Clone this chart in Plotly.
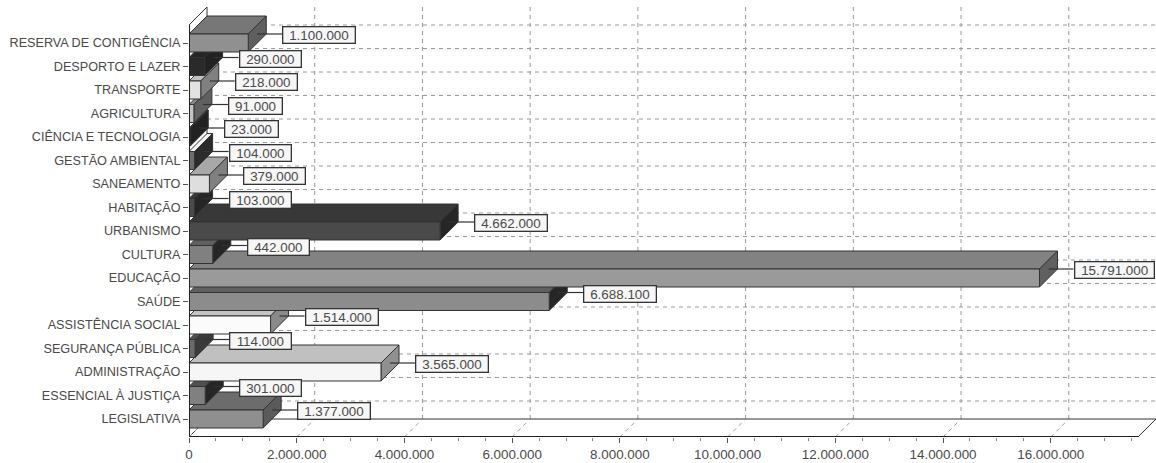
import plotly.graph_objects as go

categories = ["LEGISLATIVA", "ESSENCIAL À JUSTIÇA", "ADMINISTRAÇÃO", "SEGURANÇA PÚBLICA",
              "ASSISTÊNCIA SOCIAL", "SAÚDE", "EDUCAÇÃO", "CULTURA", "URBANISMO", "HABITAÇÃO",
              "SANEAMENTO", "GESTÃO AMBIENTAL", "CIÊNCIA E TECNOLOGIA", "AGRICULTURA",
              "TRANSPORTE", "DESPORTO E LAZER", "RESERVA DE CONTIGÊNCIA"]
values = [1377000, 301000, 3565000, 114000, 1514000, 6688100, 15791000, 442000, 4662000,
          103000, 379000, 104000, 23000, 91000, 218000, 290000, 1100000]
front_colors = ["#8f8f8f", "#808080", "#f6f6f6", "#6a6a6a", "#fbfbfb", "#8c8c8c", "#9a9a9a", "#808080",
                "#4a4a4a", "#4a4a4a", "#dedede", "#6e6e6e", "#2a2a2a", "#c4c4c4", "#e2e2e2", "#2a2a2a", "#909090"]
top_colors = ["#6c6c6c", "#505050", "#c0c0c0", "#505050", "#c4c4c4", "#606060", "#828282", "#606060",
              "#383838", "#383838", "#a8a8a8", "#f4f4f4", "#222222", "#8a8a8a", "#c0c0c0", "#262626", "#777777"]
side_colors = ["#5a5a5a", "#262626", "#909090", "#3a3a3a", "#8a8a8a", "#262626", "#606060", "#262626",
               "#262626", "#262626", "#808080", "#2c2c2c", "#222222", "#606060", "#808080", "#222222", "#5f5f5f"]

W, H = 1156, 463
LEFT, BOTTOM, TOP = 189, 437, 7
PX_PER_X = 53.86 / 1e6
PX_PER_CAT = 23.5
DEPTH = 18
DX = DEPTH / PX_PER_X
DY = DEPTH / PX_PER_CAT
HALF = 9 / PX_PER_CAT
XMAX = (W - LEFT) / PX_PER_X
FLOOR_X = (1138 - LEFT) / PX_PER_X
Y_MIN = -DY
Y_MAX = (419 - TOP) / PX_PER_CAT
FRONT_TOP = Y_MAX - DY
EDGE = "#333333"
GRID = "#9a9a9a"
TXT = "#4a4a4a"
LABEL_SHIFT = 34

fig = go.Figure()


def poly(xs, ys, fill, line=EDGE, width=1):
    fig.add_trace(go.Scatter(x=xs, y=ys, mode="lines", fill="toself", fillcolor=fill,
                             line=dict(color=line, width=width), hoverinfo="skip"))


# left wall
poly([0, DX, DX, 0, 0], [FRONT_TOP, Y_MAX, Y_MIN + DY, Y_MIN, FRONT_TOP], "#ffffff")

# back wall grid
gx, gy = [], []
for t in range(2000000, 18000000, 2000000):
    gx += [t + DX, t + DX, None]
    gy += [Y_MIN + DY, Y_MAX, None]
for i in range(len(categories)):
    gx += [DX, FLOOR_X + DX, None]
    gy += [i + DY, i + DY, None]
fig.add_trace(go.Scatter(x=gx, y=gy, mode="lines", hoverinfo="skip",
                         line=dict(color=GRID, width=1, dash="4px,4px")))

# floor
poly([0, FLOOR_X, FLOOR_X + DX, DX, 0], [Y_MIN, Y_MIN, Y_MIN + DY, Y_MIN + DY, Y_MIN], "#ffffff")
fx, fy = [], []
for t in range(0, 18000000, 2000000):
    fx += [t, t + DX, None]
    fy += [Y_MIN, Y_MIN + DY, None]
fig.add_trace(go.Scatter(x=fx, y=fy, mode="lines", hoverinfo="skip",
                         line=dict(color=GRID, width=1, dash="4px,4px")))


def label_width(text):
    digits = sum(c.isdigit() for c in text)
    return 7.5 * digits + 3.7 * (len(text) - digits) + 14


# bars, nearest the axis foot first
for i, v in enumerate(values):
    lo, hi = i - HALF, i + HALF
    poly([0, v, v + DX, DX, 0], [hi, hi, hi + DY, hi + DY, hi], top_colors[i])
    poly([v, v + DX, v + DX, v, v], [lo, lo + DY, hi + DY, hi, lo], side_colors[i])
    poly([0, v, v, 0, 0], [lo, lo, hi, hi, lo], front_colors[i])
    fig.add_trace(go.Scatter(x=[v + DX / 2, v + LABEL_SHIFT / PX_PER_X], y=[i + DY / 2, i + DY / 2],
                             mode="lines", line=dict(color=EDGE, width=1.2), hoverinfo="skip"))
    text = f"{v:,}".replace(",", ".")
    fig.add_annotation(x=v, y=i, text=text, showarrow=False,
                       xanchor="left", yanchor="middle", xshift=LABEL_SHIFT, yshift=8,
                       width=label_width(text) - 4.6, height=13.4, align="center", valign="middle",
                       font=dict(family="Liberation Sans", size=13.4, color=TXT),
                       bgcolor="#f6f6f6", bordercolor=EDGE, borderwidth=1.3, borderpad=1)

# axes
fig.add_trace(go.Scatter(x=[0, 0, FLOOR_X], y=[FRONT_TOP, Y_MIN, Y_MIN], mode="lines",
                         line=dict(color="#222222", width=2), hoverinfo="skip"))

xt = list(range(0, 18000000, 2000000))
fig.update_layout(
    width=W, height=H, showlegend=False,
    paper_bgcolor="#ffffff", plot_bgcolor="#ffffff",
    margin=dict(l=LEFT, r=0, t=TOP, b=H - BOTTOM, pad=0),
    font=dict(family="Liberation Sans", size=12.65, color=TXT),
    xaxis=dict(range=[0, XMAX], tickvals=xt,
               ticktext=[f"{t:,}".replace(",", ".") for t in xt],
               tickfont=dict(size=13.4),
               showgrid=False, zeroline=False, showline=False,
               ticks="outside", ticklen=5, tickcolor="#555555", tickwidth=1,
               minor=dict(dtick=500000, tick0=0, ticks="outside", ticklen=3, tickcolor="#888888", tickwidth=1)),
    yaxis=dict(range=[Y_MIN, Y_MAX], tickvals=list(range(len(categories))), ticktext=categories,
               showgrid=False, zeroline=False, showline=False,
               ticks="outside", ticklen=5, tickcolor="#555555", tickwidth=1),
)
fig.write_html("out.html", config=dict(displayModeBar=False),
               post_script="document.body.style.margin='0';")
